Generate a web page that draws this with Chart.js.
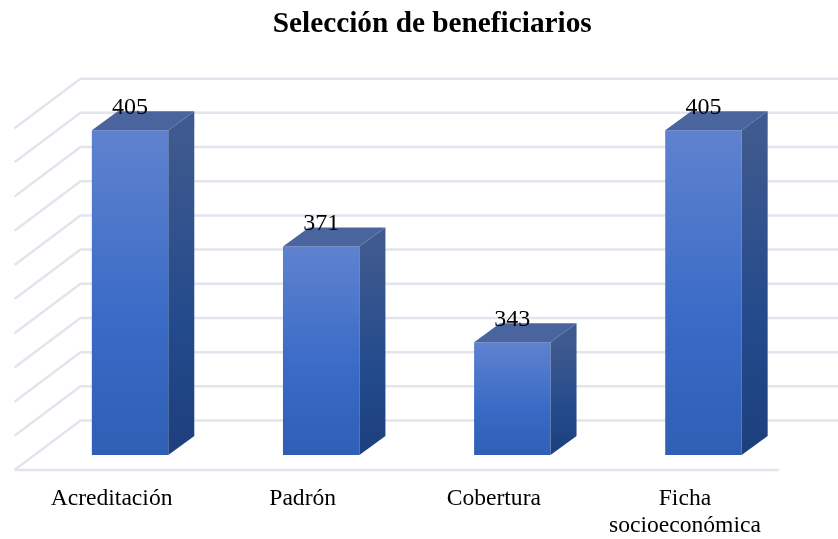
<!DOCTYPE html>
<html lang="es">
<head>
  <meta charset="UTF-8">
  <title>Selección de beneficiarios</title>
  <script src="https://cdn.jsdelivr.net/npm/chart.js"></script>
  <style>
    html, body { margin:0; padding:0; background:#fff; overflow:hidden; }
    canvas { display:block; }
  </style>
</head>
<body>
<canvas id="chart" width="838" height="539"></canvas>
<script>
const categories = ['Acreditación', 'Padrón', 'Cobertura', ['Ficha', 'socioeconómica']];
const values = [405, 371, 343, 405];
const axisMin = 310;
const axisMax = 410;
const axisStep = 10;

const serif = "'Liberation Serif', 'Times New Roman', serif";
const gridColor = '#e3e5ee';
// how far the 3D box and the walls are pushed away from the plane of the bars
const box = { dx: 26, dy: -19 };
const wallBack = { dx: 46, dy: -34.5 };
const wallFront = { dx: -20, dy: 15 };
const titleShift = 15.5; // title sits right of the plot centre in the original

function vertical(ctx, top, bottom, stops) {
  const g = ctx.createLinearGradient(0, top, 0, bottom);
  stops.forEach(s => g.addColorStop(s[0], s[1]));
  return g;
}

const walls = {
  id: 'walls',
  afterLayout(chart) {
    chart.titleBlock.left += titleShift;
    chart.titleBlock.right += titleShift;
  },
  beforeDatasetsDraw(chart) {
    const { ctx, chartArea, scales } = chart;
    ctx.save();
    ctx.strokeStyle = gridColor;
    ctx.lineWidth = 2.5;
    scales.y.ticks.forEach(t => {
      const y = scales.y.getPixelForValue(t.value);
      ctx.beginPath();
      ctx.moveTo(chartArea.left + wallFront.dx, y + wallFront.dy);
      ctx.lineTo(chartArea.left + wallBack.dx, y + wallBack.dy);
      ctx.lineTo(chartArea.right + wallBack.dx, y + wallBack.dy);
      ctx.stroke();
    });
    const floor = scales.y.getPixelForValue(axisMin) + wallFront.dy;
    ctx.beginPath();
    ctx.moveTo(chartArea.left + wallFront.dx, floor);
    ctx.lineTo(chartArea.right + wallFront.dx, floor);
    ctx.stroke();
    ctx.restore();
  }
};

const boxes = {
  id: 'boxes',
  afterDatasetsDraw(chart) {
    const { ctx } = chart;
    const bars = chart.getDatasetMeta(0).data;
    const base = chart.scales.y.getPixelForValue(axisMin);
    ctx.save();
    bars.forEach(bar => {
      const l = bar.x - bar.width / 2, r = bar.x + bar.width / 2;
      // side face
      ctx.fillStyle = vertical(ctx, bar.y, base, [[0, '#3f5a8e'], [0.6, '#234a8c'], [1, '#1d3f7c']]);
      ctx.beginPath();
      ctx.moveTo(r, bar.y);
      ctx.lineTo(r + box.dx, bar.y + box.dy);
      ctx.lineTo(r + box.dx, base + box.dy);
      ctx.lineTo(r, base);
      ctx.closePath();
      ctx.fill();
      // top face
      ctx.fillStyle = '#4a659e';
      ctx.beginPath();
      ctx.moveTo(l, bar.y);
      ctx.lineTo(l + box.dx, bar.y + box.dy);
      ctx.lineTo(r + box.dx, bar.y + box.dy);
      ctx.lineTo(r, bar.y);
      ctx.closePath();
      ctx.fill();
    });
    // value labels
    ctx.fillStyle = '#000';
    ctx.font = '24px ' + serif;
    ctx.textAlign = 'center';
    ctx.textBaseline = 'alphabetic';
    bars.forEach((bar, i) => ctx.fillText(values[i], bar.x, bar.y - 16));
    ctx.restore();
  }
};

new Chart(document.getElementById('chart'), {
  type: 'bar',
  data: {
    labels: categories,
    datasets: [{
      data: values,
      backgroundColor(c) {
        const { chart, parsed } = c;
        if (!chart.chartArea || !parsed) return '#3a6cc8';
        const y = chart.scales.y;
        return vertical(chart.ctx, y.getPixelForValue(parsed.y), y.getPixelForValue(axisMin),
          [[0, '#5f82cf'], [0.6, '#386ac6'], [1, '#2f5fb5']]);
      },
      borderWidth: 0,
      categoryPercentage: 1,
      barPercentage: 0.4
    }]
  },
  options: {
    responsive: false,
    animation: false,
    layout: { padding: { left: 34.5, right: 39, top: 0, bottom: 0 } },
    plugins: {
      legend: { display: false },
      tooltip: { enabled: false },
      title: {
        display: true,
        text: 'Selección de beneficiarios',
        color: '#000',
        font: { family: serif, size: 29.3, weight: 'bold', lineHeight: 1.2 },
        padding: { top: 7, bottom: 71 }
      }
    },
    scales: {
      x: {
        grid: { display: false, drawTicks: false },
        border: { display: false },
        ticks: {
          color: '#000',
          font: { family: serif, size: 23.6, lineHeight: 1.15 },
          padding: 30,
          labelOffset: -18.5,
          maxRotation: 0,
          autoSkip: false
        },
        afterFit(scale) { scale.height = 84; }
      },
      y: {
        min: axisMin,
        max: axisMax,
        grid: { display: false, drawTicks: false },
        border: { display: false },
        ticks: { display: false, stepSize: axisStep }
      }
    }
  },
  plugins: [walls, boxes]
});
</script>
</body>
</html>
